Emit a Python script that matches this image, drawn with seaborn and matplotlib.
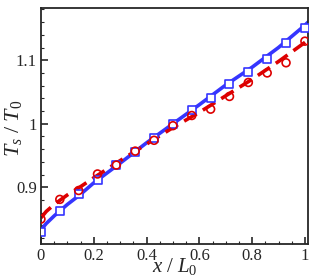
import matplotlib
matplotlib.use('Agg')
import matplotlib.pyplot as plt
from matplotlib.ticker import MultipleLocator
import seaborn as sns
import numpy as np

# marker samples (x / L0)
x_pts = np.arange(15) / 14
blue_pts = [0.830, 0.863, 0.889, 0.912, 0.935, 0.955, 0.978, 0.999, 1.021,
            1.040, 1.063, 1.082, 1.102, 1.127, 1.151]
red_pts = [0.850, 0.881, 0.895, 0.921, 0.935, 0.957, 0.974, 0.997, 1.013,
           1.023, 1.043, 1.065, 1.080, 1.096, 1.130]

# smooth curves
x_line = [0, 0.01, 0.02, 0.05, 0.1, 0.15, 0.2, 0.3, 0.4, 0.5, 0.6, 0.7, 0.8, 0.9, 1.0, 1.012]
blue_line = [0.832, 0.838, 0.843, 0.855, 0.873, 0.889, 0.907, 0.938, 0.970,
             1.000, 1.030, 1.061, 1.089, 1.120, 1.155, 1.160]
red_line = [0.852, 0.857, 0.862, 0.873, 0.888, 0.901, 0.915, 0.942, 0.968,
            0.994, 1.018, 1.044, 1.070, 1.098, 1.128, 1.132]

BLUE = '#3535ff'
RED = '#dd0000'

sns.set_style('ticks')
plt.rcParams['font.family'] = ['Liberation Serif', 'DejaVu Serif']
plt.rcParams['mathtext.fontset'] = 'custom'
plt.rcParams['mathtext.it'] = 'Liberation Serif:italic'
plt.rcParams['mathtext.rm'] = 'Liberation Serif'

fig = plt.figure(figsize=(3.15, 2.8), dpi=100)
ax = fig.add_axes([0.130, 0.129, 0.848, 0.842])

sns.lineplot(x=x_line, y=blue_line, ax=ax, color=BLUE, linewidth=2.6)
sns.lineplot(x=x_line, y=red_line, ax=ax, color=RED, linewidth=2.6,
             linestyle=(0, (4, 2)))
sns.scatterplot(x=x_pts, y=blue_pts, ax=ax, marker='s', s=30,
                facecolor='white', edgecolor=BLUE, linewidth=1.2, zorder=3)
sns.scatterplot(x=x_pts, y=red_pts, ax=ax, marker='o', s=32,
                facecolor='none', edgecolor=RED, linewidth=1.2, zorder=3)

ax.set_xlim(0, 1.012)
ax.set_ylim(0.811, 1.182)
ax.set_xticks([0, 0.2, 0.4, 0.6, 0.8, 1])
ax.set_xticklabels(['0', '0.2', '0.4', '0.6', '0.8', '1'])
ax.set_yticks([0.9, 1.0, 1.1])
ax.set_yticklabels(['0.9', '1', '1.1'])
ax.xaxis.set_minor_locator(MultipleLocator(0.05))
ax.yaxis.set_minor_locator(MultipleLocator(0.02))
ax.tick_params(which='major', direction='in', length=5, width=1.2,
               labelsize=12, pad=3)
ax.tick_params(which='minor', direction='in', length=2.5, width=0.8)
for sp in ax.spines.values():
    sp.set_linewidth(1.3)

ax.set_xlabel(r'$x\ /\ L_0$', fontsize=15)
ax.set_ylabel(r'$T_s\ /\ T_0$', fontsize=16)
ax.xaxis.set_label_coords(0.50, -0.05)
ax.yaxis.set_label_coords(-0.062, 0.49)

fig.savefig('out.png', dpi=100)
plt.close(fig)
